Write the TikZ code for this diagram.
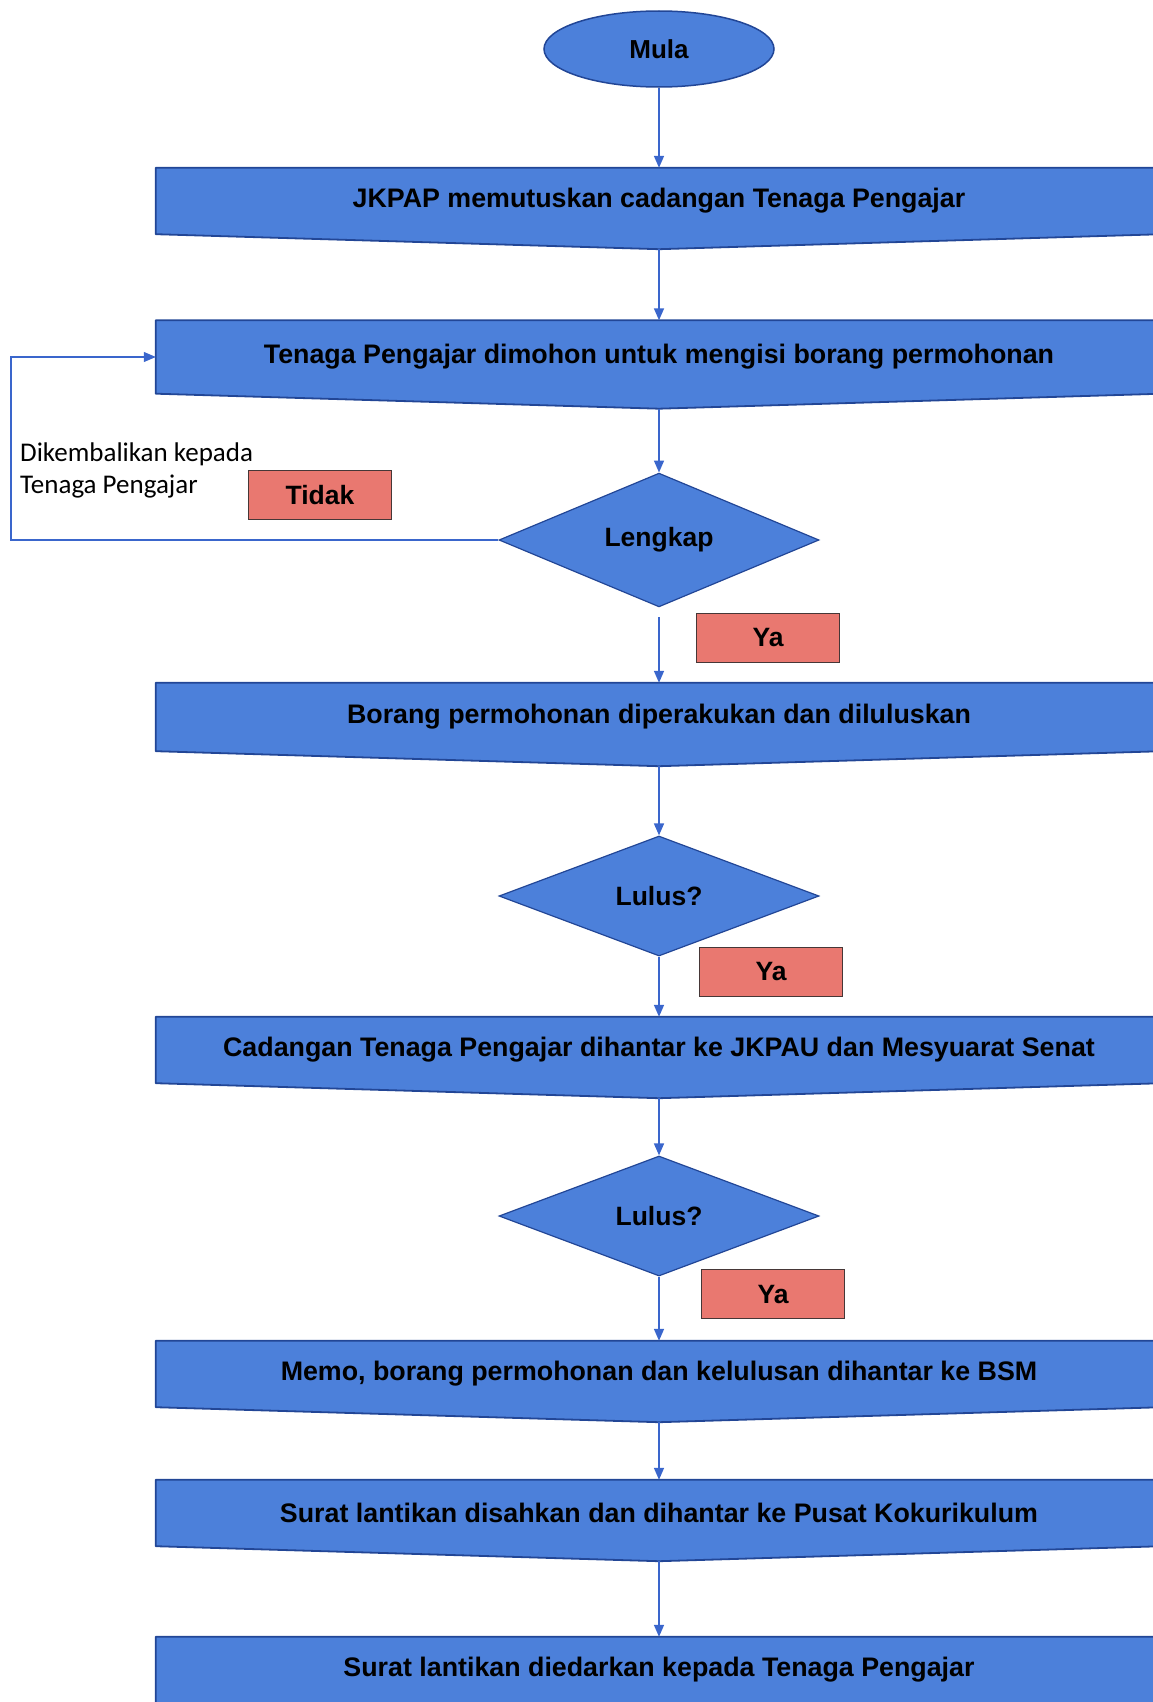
\documentclass[tikz,border=0pt]{standalone}
\usepackage{fontspec}
\setmainfont{Liberation Sans}
\newfontfamily\notefont{Carlito}
\usetikzlibrary{shapes.geometric,arrows.meta,backgrounds}
\definecolor{boxblue}{RGB}{76,128,218}
\definecolor{edgeblue}{RGB}{34,70,150}
\definecolor{lineblue}{RGB}{58,102,204}
\definecolor{tagred}{RGB}{233,120,112}
\definecolor{tagedge}{RGB}{70,55,55}
\begin{document}
\begin{tikzpicture}[x=1pt, y=-1pt,
  procbox/.style={rectangle, minimum width=1006pt, minimum height=66pt, inner sep=0pt,
    font=\fontsize{26.8}{30}\selectfont\bfseries},
  decision/.style={diamond, draw=edgeblue, fill=boxblue, line width=1.2pt,
    minimum width=320pt, minimum height=120pt, inner sep=0pt,
    font=\fontsize{26.5}{30}\selectfont\bfseries},
  startnode/.style={ellipse, draw=edgeblue, fill=boxblue, line width=1.5pt,
    minimum width=230pt, minimum height=76pt, inner sep=0pt,
    font=\fontsize{26}{30}\selectfont\bfseries},
  tag/.style={rectangle, draw=tagedge, fill=tagred, line width=1.2pt,
    minimum width=143pt, minimum height=49pt, inner sep=0pt,
    font=\fontsize{26.5}{30}\selectfont\bfseries},
  docshape/.style={draw=edgeblue, fill=boxblue, line width=1.8pt, line join=round},
  flow/.style={draw=lineblue, line width=1.6pt, -{Triangle[length=12pt,width=10pt]}},
  backflow/.style={draw=lineblue, line width=1.1pt, -{Triangle[length=12pt,width=10pt]}}]
  \useasboundingbox (0,0) rectangle (1152,1702);

  % -------- start --------
  \node[startnode] (mula) at (659,49) {Mula};

  % -------- process boxes --------
  \node[procbox] (b1) at (659,201) {JKPAP memutuskan cadangan Tenaga Pengajar};
  \node[procbox, minimum height=73pt] (b2) at (659,357) {Tenaga Pengajar dimohon untuk mengisi borang permohonan};
  \node[procbox, minimum height=68pt] (b3) at (659,717) {Borang permohonan diperakukan dan diluluskan};
  \node[procbox] (b4) at (659,1050) {Cadangan Tenaga Pengajar dihantar ke JKPAU dan Mesyuarat Senat};
  \node[procbox] (b5) at (659,1374) {Memo, borang permohonan dan kelulusan dihantar ke BSM};
  \node[procbox] (b6) at (659,1513) {Surat lantikan disahkan dan dihantar ke Pusat Kokurikulum};
  \node[procbox] (b7) at (659,1670) {Surat lantikan diedarkan kepada Tenaga Pengajar};

  \begin{scope}[on background layer]
    \foreach \b in {b1,b2,b3,b4,b5,b6,b7} {
      \coordinate (\b-tip) at ([yshift=-15pt]\b.south);
      \path[docshape] (\b.north west) -- (\b.north east) -- (\b.south east)
        -- (\b-tip) -- (\b.south west) -- cycle;
    }
  \end{scope}

  % -------- decisions --------
  \node[decision] (d1) at (659,540) {Lengkap};
  \node[decision] (d2) at (659,896) {Lulus?};
  \node[decision] (d3) at (659,1216) {Lulus?};

  % -------- answer tags --------
  \node[tag] (tidak) at (320,495) {Tidak};
  \node[tag] (ya1) at (768,638) {Ya};
  \node[tag] (ya2) at (771,972) {Ya};
  \node[tag] (ya3) at (773,1294) {Ya};

  % -------- return note --------
  \node[anchor=west, align=left, inner sep=0pt, font=\notefont\fontsize{27}{32}\selectfont]
    (note) at (20,470) {Dikembalikan kepada\\Tenaga Pengajar};
  \coordinate (loopx) at (11,0);

  % -------- connectors --------
  \draw[flow] (mula) -- (b1);
  \draw[flow] (b1-tip) -- (b2);
  \draw[flow] (b2-tip) -- (d1);
  \draw[flow, shorten <=10pt] (d1) -- (b3);
  \draw[flow] (b3-tip) -- (d2);
  \draw[flow] (d2) -- (b4);
  \draw[flow] (b4-tip) -- (d3);
  \draw[flow] (d3) -- (b5);
  \draw[flow] (b5-tip) -- (b6);
  \draw[flow] (b6-tip) -- (b7);
  \draw[backflow] (d1.west) -- (d1.west -| loopx) |- (b2.west);
\end{tikzpicture}
\end{document}
